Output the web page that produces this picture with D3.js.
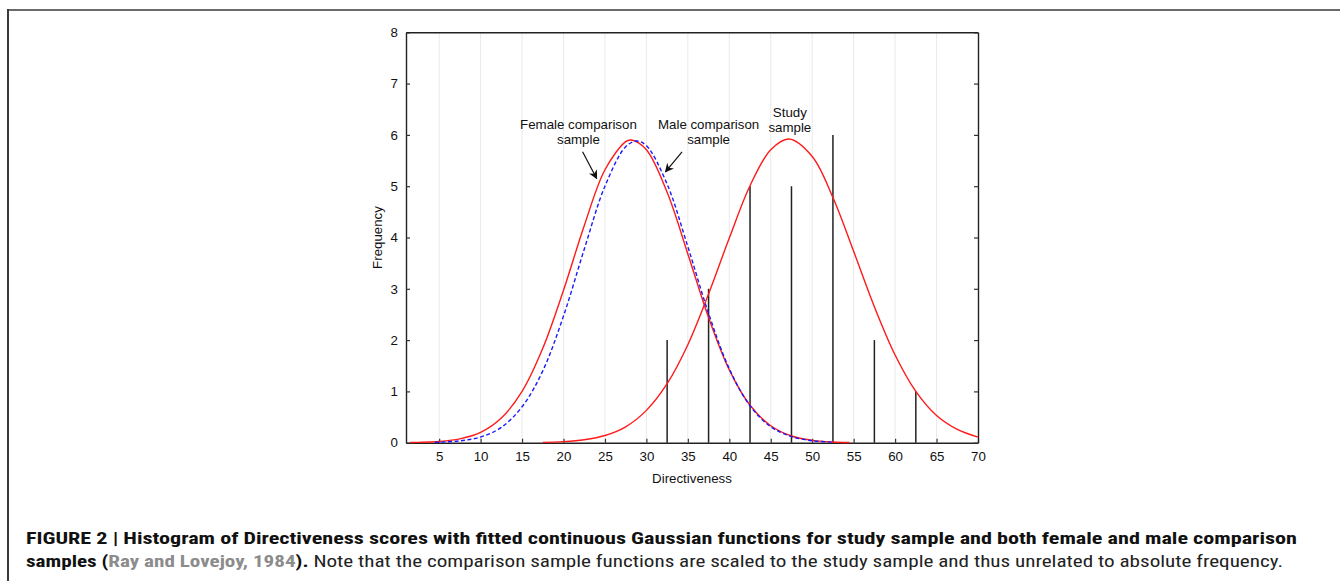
<!DOCTYPE html>
<html>
<head>
<meta charset="utf-8">
<script src="https://cdn.jsdelivr.net/npm/d3@7"></script>
<style>
  html, body { margin: 0; padding: 0; background: #fff; }
  svg { display: block; }
</style>
</head>
<body>
<svg id="chart" width="1340" height="581"></svg>
<script>
// ---------- data ----------
const xTicks = [5, 10, 15, 20, 25, 30, 35, 40, 45, 50, 55, 60, 65, 70];
const yTicks = [0, 1, 2, 3, 4, 5, 6, 7, 8];

// histogram (vertical spikes): score bin centre and frequency
const barScores = [32.5, 37.5, 42.5, 47.5, 52.5, 57.5, 62.5];
const barFreqs  = [2, 3, 5, 5, 6, 2, 1];

// fitted curve: study sample (red)
const studyX = [17.5, 20, 22.5, 25, 27.5, 30, 32.5, 35, 37.5, 40, 42.5, 45, 47.2, 50, 52.5, 55, 57.5, 60, 62.5, 65, 67.5, 70];
const studyY = [0.007, 0.021, 0.058, 0.14, 0.31, 0.63, 1.15, 1.91, 2.90, 3.99, 5.01, 5.71, 5.92, 5.58, 4.78, 3.73, 2.65, 1.71, 1.00, 0.53, 0.26, 0.11];

// fitted curve: female comparison sample (red)
const femaleX = [1.5, 2.5, 5, 7.5, 10, 12.5, 15, 17.5, 20, 22.5, 25, 27.5, 28.2, 30, 32.5, 35, 37.5, 40, 42.5, 45, 47.5, 50, 52.5, 54.5];
const femaleY = [0.004, 0.007, 0.024, 0.075, 0.20, 0.48, 1.00, 1.84, 2.97, 4.23, 5.32, 5.87, 5.90, 5.71, 4.88, 3.68, 2.44, 1.42, 0.73, 0.33, 0.13, 0.046, 0.014, 0.005];

// fitted curve: male comparison sample (blue dashed)
const maleX = [4.5, 5, 7.5, 10, 12.5, 15, 17.5, 20, 22.5, 25, 27.5, 28.8, 30, 32.5, 35, 37.5, 40, 42.5, 45, 47.5, 50, 52.5];
const maleY = [0.008, 0.010, 0.036, 0.11, 0.30, 0.70, 1.40, 2.47, 3.77, 5.00, 5.77, 5.88, 5.79, 5.04, 3.82, 2.52, 1.44, 0.72, 0.31, 0.12, 0.038, 0.011];

// annotations (data units)
const annoLabels = [["Female comparison", "sample"], ["Male comparison", "sample"], ["Study", "sample"]];
const annoX = [21.8, 37.5, 47.3];
const annoY = [6.11, 6.11, 6.34];
const arrowFrom = [[22.3, 5.67], [34.3, 5.67]];
const arrowTo   = [[24.0, 5.15], [32.3, 5.28]];

const xTitle = "Directiveness";
const yTitle = "Frequency";
const captionBold = "FIGURE 2 | Histogram of Directiveness scores with fitted continuous Gaussian functions for study sample and both female and male comparison";
const captionParts = [
  ["samples (", "b"],
  ["Ray and Lovejoy, 1984", "ref"],
  [").", "b"],
  [" Note that the comparison sample functions are scaled to the study sample and thus unrelated to absolute frequency.", "n"]
];

// ---------- drawing ----------
const svg = d3.select("#chart");
const font = "'Liberation Sans', Arial, sans-serif";
const fs = 13.3;
const pLeft = 406, pRight = 978, pTop = 32.3, pBottom = 442.7;

const x = d3.scaleLinear().domain([1, 70]).range([pLeft, pRight]);
const y = d3.scaleLinear().domain([0, 8]).range([pBottom, pTop]);

// figure frame
svg.append("line").attr("x1", 8).attr("x2", 1340).attr("y1", 10).attr("y2", 10)
  .attr("stroke", "#6a6a6a").attr("stroke-width", 2);
svg.append("line").attr("x1", 8).attr("x2", 8).attr("y1", 9).attr("y2", 581)
  .attr("stroke", "#3a3a3a").attr("stroke-width", 2);

// gridlines
svg.append("g").selectAll("line").data(xTicks.filter(d => d < 70)).join("line")
  .attr("x1", d => x(d)).attr("x2", d => x(d))
  .attr("y1", y(0)).attr("y2", y(8))
  .attr("stroke", "#d4d4d4").attr("stroke-width", 1).attr("stroke-dasharray", "1,1");

// axes (ticks inside)
const gx = svg.append("g").attr("transform", `translate(0,${pBottom})`)
  .call(d3.axisBottom(x).tickValues(xTicks).tickSizeInner(-4).tickSizeOuter(0).tickPadding(9));
const gy = svg.append("g").attr("transform", `translate(${pLeft},0)`)
  .call(d3.axisLeft(y).tickValues(yTicks).tickSizeInner(-4).tickSizeOuter(0).tickPadding(8));
const gr = svg.append("g").attr("transform", `translate(${pRight},0)`)
  .call(d3.axisRight(y).tickValues(yTicks).tickSizeInner(-4).tickSizeOuter(0).tickFormat(""));
const gt = svg.append("g").attr("transform", `translate(0,${pTop})`)
  .call(d3.axisTop(x).tickValues([]).tickSizeOuter(0));
[gx, gy, gr, gt].forEach(g => {
  g.selectAll("path.domain").attr("stroke", "#222").attr("stroke-width", 1.4);
  g.selectAll(".tick line").attr("stroke", "#333").attr("stroke-width", 1.2);
  g.selectAll("text").attr("font-family", font).attr("font-size", fs).attr("fill", "#111");
});

// histogram spikes
svg.append("g").selectAll("line").data(barScores).join("line")
  .attr("x1", d => x(d)).attr("x2", d => x(d))
  .attr("y1", y(0)).attr("y2", (d, i) => y(barFreqs[i]))
  .attr("stroke", "#222").attr("stroke-width", 1.5);

// curves
const line = d3.line().x(d => x(d[0])).y(d => y(d[1])).curve(d3.curveCatmullRom.alpha(0.5));
const zip = (a, b) => a.map((v, i) => [v, b[i]]);
svg.append("path").datum(zip(femaleX, femaleY)).attr("d", line)
  .attr("fill", "none").attr("stroke", "#ff1a1a").attr("stroke-width", 1.4);
svg.append("path").datum(zip(studyX, studyY)).attr("d", line)
  .attr("fill", "none").attr("stroke", "#ff1a1a").attr("stroke-width", 1.4);
svg.append("path").datum(zip(maleX, maleY)).attr("d", line)
  .attr("fill", "none").attr("stroke", "#1a1aff").attr("stroke-width", 1.4)
  .attr("stroke-dasharray", "4,2.5");

// annotations
svg.append("defs").append("marker").attr("id", "ah")
  .attr("viewBox", "0 0 10 10").attr("refX", 9).attr("refY", 5)
  .attr("markerWidth", 9).attr("markerHeight", 9).attr("markerUnits", "userSpaceOnUse")
  .attr("orient", "auto")
  .append("path").attr("d", "M0,0 L10,5 L0,10 L3,5 Z").attr("fill", "#111");

annoLabels.forEach((lines, i) => {
  const t = svg.append("text").attr("font-family", font).attr("font-size", fs)
    .attr("fill", "#111").attr("text-anchor", "middle")
    .attr("x", x(annoX[i])).attr("y", y(annoY[i]));
  lines.forEach((s, j) => t.append("tspan").attr("x", x(annoX[i])).attr("dy", j ? 14.5 : 0).text(s));
});
arrowFrom.forEach((f, i) => {
  svg.append("line")
    .attr("x1", x(f[0])).attr("y1", y(f[1]))
    .attr("x2", x(arrowTo[i][0])).attr("y2", y(arrowTo[i][1]))
    .attr("stroke", "#111").attr("stroke-width", 1.2).attr("marker-end", "url(#ah)");
});

// axis titles
svg.append("text").attr("font-family", font).attr("font-size", fs).attr("fill", "#111")
  .attr("text-anchor", "middle").attr("x", (pLeft + pRight) / 2).attr("y", 483).text(xTitle);
svg.append("text").attr("font-family", font).attr("font-size", fs).attr("fill", "#111")
  .attr("text-anchor", "middle").attr("transform", `translate(382,${(pTop + pBottom) / 2}) rotate(-90)`)
  .text(yTitle);

// caption
const capFont = "'Liberation Sans Narrow', 'Arial Narrow', 'Roboto Condensed', 'Liberation Sans', sans-serif";
svg.append("text").attr("font-family", capFont).attr("font-size", 17).attr("font-weight", "bold")
  .attr("fill", "#111").attr("x", 26).attr("y", 544)
  .attr("textLength", 1271).attr("lengthAdjust", "spacingAndGlyphs").text(captionBold);
const c2 = svg.append("text").attr("font-family", capFont).attr("font-size", 17)
  .attr("x", 26).attr("y", 567).attr("textLength", 1257).attr("lengthAdjust", "spacingAndGlyphs");
captionParts.forEach(([s, k]) => {
  c2.append("tspan").text(s)
    .attr("font-weight", k === "n" ? "normal" : "bold")
    .attr("fill", k === "ref" ? "#8c8c8c" : (k === "n" ? "#222" : "#111"));
});
</script>
</body>
</html>
